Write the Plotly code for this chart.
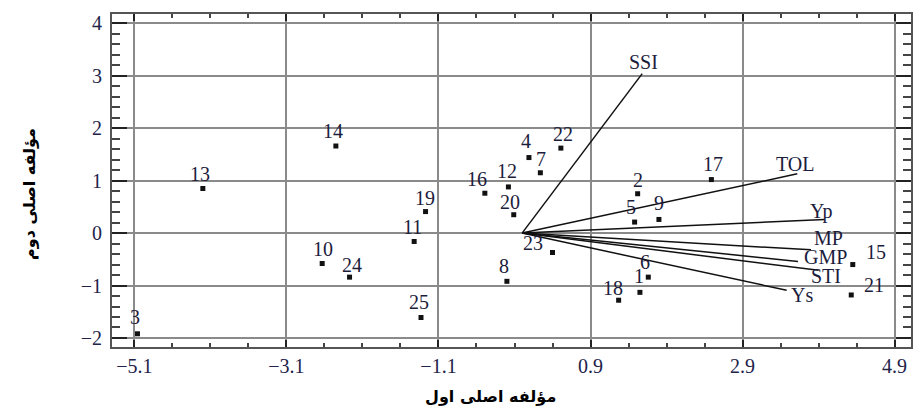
import plotly.graph_objects as go

# Genotype scores on the first two principal components
genotypes = [str(i) for i in range(1, 26)]
pc1 = [1.55, 1.52, -5.06, 0.09, 1.48, 1.66, 0.24, -0.20, 1.80, -2.63,
       -1.42, -0.18, -4.20, -2.45, 4.35, -0.49, 2.49, 1.27, -1.27, -0.11,
       4.33, 0.51, 0.40, -2.27, -1.33]
pc2 = [-1.13, 0.75, -1.92, 1.44, 0.21, -0.84, 1.15, -0.92, 0.26, -0.58,
       -0.16, 0.88, 0.85, 1.66, -0.60, 0.76, 1.02, -1.28, 0.41, 0.35,
       -1.18, 1.62, -0.37, -0.84, -1.61]

# Index loadings (vector tips)
indices = ["SSI", "TOL", "Yp", "MP", "GMP", "STI", "Ys"]
load1 = [1.58, 3.62, 3.98, 3.80, 3.63, 3.90, 3.48]
load2 = [3.04, 1.13, 0.26, -0.32, -0.54, -0.71, -1.09]

# label offsets in pixels (dx, dy), screen y pointing down
point_offsets = {
    "1": (-1, -16), "2": (0, -14), "3": (-2, -17), "4": (-3, -17), "5": (-4, -15),
    "6": (-3, -15), "7": (1, -14), "8": (-3, -15), "9": (0, -16), "10": (1, -15),
    "11": (-2, -14), "12": (-1, -16), "13": (-3, -15), "14": (-3, -15), "15": (23, -13),
    "16": (-8, -14), "17": (2, -16), "18": (-6, -12), "19": (-1, -14), "20": (-4, -13),
    "21": (23, -10), "22": (2, -14), "23": (-20, -9), "24": (2, -12), "25": (-2, -16),
}
vector_offsets = {
    "SSI": (1, -12), "TOL": (-2, -10), "Yp": (-3, -8), "MP": (18, -12),
    "GMP": (27, -4), "STI": (7, 6), "Ys": (15, 5),
}

label_font = dict(family="Liberation Serif", size=20, color="#1c1c3c")
tick_font = dict(family="Liberation Serif", size=20, color="#23234a")

fig = go.Figure()

# vectors from the origin
vx, vy = [], []
for a, b in zip(load1, load2):
    vx += [0, a, None]
    vy += [0, b, None]
fig.add_trace(go.Scatter(x=vx, y=vy, mode="lines",
                         line=dict(color="#111111", width=1.5),
                         hoverinfo="skip", showlegend=False))

fig.add_trace(go.Scatter(x=pc1, y=pc2, mode="markers",
                         marker=dict(symbol="square", size=5, color="#111111"),
                         text=genotypes, showlegend=False, cliponaxis=False))

annotations = []
for g, x, y in zip(genotypes, pc1, pc2):
    dx, dy = point_offsets[g]
    annotations.append(dict(x=x, y=y, text=g, showarrow=False, xshift=dx, yshift=-dy,
                            font=label_font))
for n, x, y in zip(indices, load1, load2):
    dx, dy = vector_offsets[n]
    annotations.append(dict(x=x, y=y, text=n, showarrow=False, xshift=dx, yshift=-dy,
                            font=label_font))

annotations.append(dict(xref="paper", yref="paper", x=0.474, y=-0.184,
                        text="<b>مؤلفه اصلی اول</b>", showarrow=False,
                        font=dict(family="DejaVu Sans", size=16, color="#000000")))
annotations.append(dict(xref="paper", yref="paper", x=-0.1186, y=0.459,
                        text="<b>مؤلفه اصلی دوم</b>", showarrow=False, textangle=-90,
                        font=dict(family="DejaVu Sans", size=16, color="#000000")))

fig.update_layout(
    width=913, height=420,
    margin=dict(l=112, r=0, t=14, b=73),
    paper_bgcolor="white", plot_bgcolor="white",
    annotations=annotations,
    xaxis=dict(range=[-5.395, 5.116], tick0=-5.1, dtick=2, tickformat=".1f",
               showgrid=True, gridcolor="#8a8a8a", gridwidth=1.5, zeroline=False,
               showline=True, linecolor="#555555", linewidth=2, mirror="ticks",
               ticks="inside", ticklen=7, tickwidth=2, tickcolor="#222222",
               tickfont=tick_font,
               minor=dict(dtick=0.5, tick0=-5.1, ticks="inside", ticklen=4,
                          tickcolor="#444444", showgrid=False)),
    yaxis=dict(range=[-2.172, 4.177], tick0=0, dtick=1,
               showgrid=True, gridcolor="#8a8a8a", gridwidth=1.5, zeroline=False,
               showline=True, linecolor="#555555", linewidth=2, mirror="ticks",
               ticks="inside", ticklen=15, tickwidth=2, tickcolor="#222222",
               tickfont=tick_font, ticklabelstandoff=4,
               minor=dict(dtick=0.2, tick0=0, ticks="inside", ticklen=8,
                          tickcolor="#444444", showgrid=False)),
)

fig.write_html("out.html")
